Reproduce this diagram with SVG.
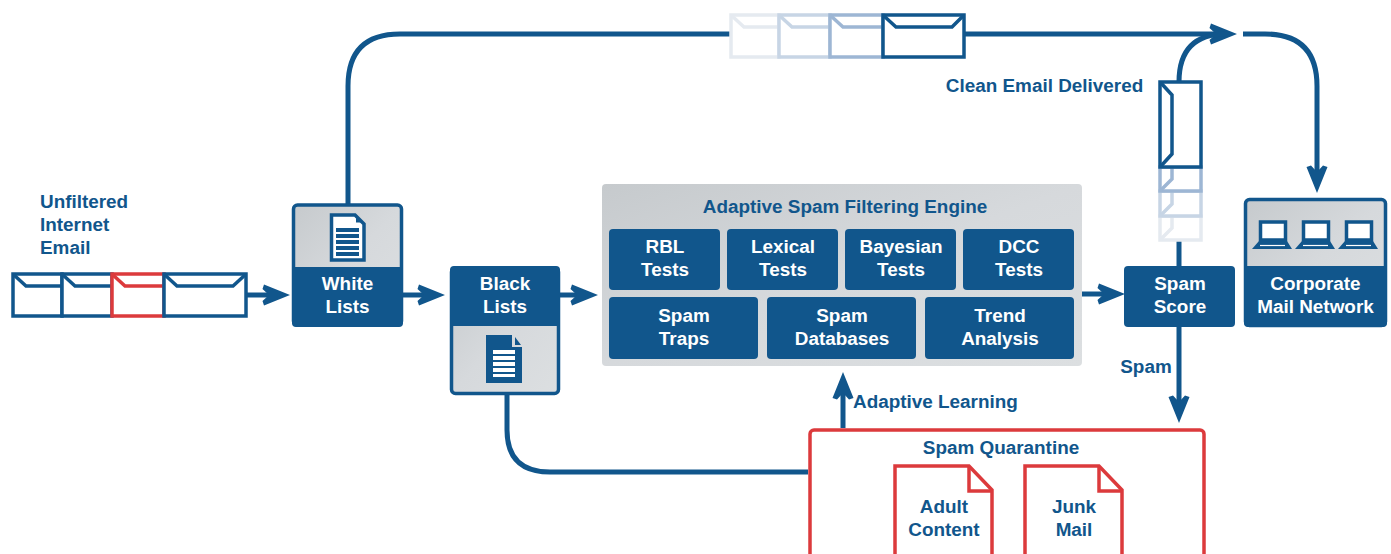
<svg xmlns="http://www.w3.org/2000/svg" width="1391" height="554" viewBox="0 0 1391 554">
<style>
text{font-family:"Liberation Sans",Arial,sans-serif;font-weight:700;font-size:18.9px;text-anchor:middle}
.w{fill:#fff}.b{fill:#11568c}
.l{text-anchor:start}
.tile{fill:#11568c}
.line{fill:none;stroke:#11568c;stroke-width:5}
.env{fill:#fff;stroke-width:3.5;stroke-linejoin:miter}
.flap{fill:none;stroke-width:3.5}
.red{fill:#fff;stroke:#dc3a3c;stroke-width:3.5}
.panel{fill:url(#g);stroke:#11568c;stroke-width:3.5}
</style>
<defs>
<linearGradient id="g" x1="0" y1="0" x2="1" y2="1"><stop offset="0" stop-color="#c6cacd"/><stop offset=".5" stop-color="#d6d9dc"/><stop offset="1" stop-color="#dcdfe1"/></linearGradient>
<marker id="a" markerUnits="userSpaceOnUse" markerWidth="32" markerHeight="26" refX="12" refY="13" orient="auto"><path d="M0.500 7L2 2.500L28 13L2 23.500L0.500 19L7 13Z" fill="#11568c"/></marker>
</defs>
<g id="connectors">
<path class="line" d="M348 205V86Q348 34 400 34H730M964 34H1221" marker-end="url(#a)"/>
<path class="line" d="M1179 81V82Q1179 34 1226 34"/>
<path class="line" d="M1243 34H1265Q1317 34 1317 86V177" marker-end="url(#a)"/>
<path class="line" d="M246 295H274" marker-end="url(#a)"/>
<path class="line" d="M403 295H429" marker-end="url(#a)"/>
<path class="line" d="M560 295H582" marker-end="url(#a)"/>
<path class="line" d="M1082 294H1109" marker-end="url(#a)"/>
<path class="line" d="M1179 240V266"/>
<path class="line" d="M1179 327V407" marker-end="url(#a)"/>
<path class="line" d="M843 428V388" marker-end="url(#a)"/>
<path class="line" d="M507 395V430Q507 472 550 472H808"/>
</g>
<g id="unfiltered-label"><text class="b l" x="40" y="207.500">Unfiltered</text><text class="b l" x="40" y="230.500">Internet</text><text class="b l" x="40" y="253.500">Email</text></g>
<g id="envelopes-in">
<rect class="env" x="13" y="274" width="49" height="42" stroke="#11568c"/><path class="flap" stroke="#11568c" d="M14 275L26 286H62"/>
<rect class="env" x="62" y="274" width="50" height="42" stroke="#11568c"/><path class="flap" stroke="#11568c" d="M63 275L75 286H112"/>
<rect class="env" x="112" y="274" width="52" height="42" stroke="#dc3a3c"/><path class="flap" stroke="#dc3a3c" d="M113 275L125 286H164"/>
<rect class="env" x="164" y="274" width="82" height="42" stroke="#11568c"/><path class="flap" stroke="#11568c" d="M165 275L177 286H233L245 275"/>
</g>
<g id="white-lists">
<rect class="panel" x="293.500" y="205" width="108" height="120" rx="4"/>
<path class="tile" d="M292 267H403V323a4 4 0 0 1-4 4H296a4 4 0 0 1-4-4Z"/>
<path d="M331.500 215H355L364 224V260H331.500Z" fill="#fff" stroke="#11568c" stroke-width="3.500"/>
<path d="M356 217.500L361 222.500H356Z" fill="#11568c"/>
<path d="M336 228h23v4h-23zM336 234h23v4h-23zM336 240h23v4h-23zM336 246h23v4h-23zM336 252h23v4h-23z" fill="#11568c"/>
<text class="w" x="347.500" y="289.500">White</text><text class="w" x="347.500" y="313">Lists</text>
</g>
<g id="black-lists">
<rect class="panel" x="451.500" y="268" width="107" height="125.500" rx="4"/>
<path class="tile" d="M454 266H556a4 4 0 0 1 4 4V326H450V270a4 4 0 0 1 4-4Z"/>
<path d="M486 335H512V347H522V383H486Z" fill="#11568c"/>
<path d="M515 337L521 345H515Z" fill="#11568c"/>
<path d="M493 350h22v4h-22zM493 356h22v4h-22zM493 362h22v4h-22zM493 368h22v4h-22zM493 374h22v3h-22z" fill="#fff"/>
<text class="w" x="505" y="289.500">Black</text><text class="w" x="505" y="313">Lists</text>
</g>
<g id="engine">
<rect x="602" y="184" width="480" height="182" rx="4" fill="url(#g)"/>
<text class="b" x="845" y="212.500">Adaptive Spam Filtering Engine</text>
</g>
<g id="rbl"><rect class="tile" x="609" y="229" width="111" height="61" rx="4"/><text class="w" x="665" y="252.500">RBL</text><text class="w" x="665" y="275.500">Tests</text></g>
<g id="lexical"><rect class="tile" x="727" y="229" width="111" height="61" rx="4"/><text class="w" x="783" y="252.500">Lexical</text><text class="w" x="783" y="275.500">Tests</text></g>
<g id="bayesian"><rect class="tile" x="845" y="229" width="111" height="61" rx="4"/><text class="w" x="901" y="252.500">Bayesian</text><text class="w" x="901" y="275.500">Tests</text></g>
<g id="dcc"><rect class="tile" x="963" y="229" width="111" height="61" rx="4"/><text class="w" x="1019" y="252.500">DCC</text><text class="w" x="1019" y="275.500">Tests</text></g>
<g id="traps"><rect class="tile" x="609" y="297" width="149" height="62" rx="4"/><text class="w" x="684" y="321.500">Spam</text><text class="w" x="684" y="344.500">Traps</text></g>
<g id="databases"><rect class="tile" x="767" y="297" width="149" height="62" rx="4"/><text class="w" x="842" y="321.500">Spam</text><text class="w" x="842" y="344.500">Databases</text></g>
<g id="trend"><rect class="tile" x="925" y="297" width="149" height="62" rx="4"/><text class="w" x="1000" y="321.500">Trend</text><text class="w" x="1000" y="344.500">Analysis</text></g>
<g id="spam-score"><rect class="tile" x="1124" y="266" width="111" height="61" rx="4"/><text class="w" x="1180" y="289.500">Spam</text><text class="w" x="1180" y="312.500">Score</text></g>
<g id="corporate">
<rect class="panel" x="1245.500" y="199.500" width="140" height="126" rx="4"/>
<path class="tile" d="M1244 266H1387V323a4 4 0 0 1-4 4H1248a4 4 0 0 1-4-4Z"/>
<g id="lap1"><rect x="1260.500" y="222" width="25" height="18" fill="#fff" stroke="#11568c" stroke-width="3.500"/><path d="M1259 241H1287L1292 249H1252Z" fill="#11568c"/><path d="M1260 245.500H1285" stroke="#fff" stroke-width="1.200"/></g>
<g id="lap2"><rect x="1303.500" y="222" width="25" height="18" fill="#fff" stroke="#11568c" stroke-width="3.500"/><path d="M1302 241H1330L1335 249H1295Z" fill="#11568c"/><path d="M1303 245.500H1328" stroke="#fff" stroke-width="1.200"/></g>
<g id="lap3"><rect x="1346.500" y="222" width="25" height="18" fill="#fff" stroke="#11568c" stroke-width="3.500"/><path d="M1345 241H1373L1378 249H1338Z" fill="#11568c"/><path d="M1346 245.500H1371" stroke="#fff" stroke-width="1.200"/></g>
<text class="w" x="1315.500" y="289.500">Corporate</text><text class="w" x="1315.500" y="312.500">Mail Network</text>
</g>
<g id="envelopes-top">
<rect class="env" x="731" y="15" width="48" height="42" stroke="#e5eaf0"/><path class="flap" stroke="#e5eaf0" d="M732 16L744 27H779"/>
<rect class="env" x="779" y="15" width="51" height="42" stroke="#c7d5e5"/><path class="flap" stroke="#c7d5e5" d="M780 16L792 27H830"/>
<rect class="env" x="830" y="15" width="53" height="42" stroke="#9db6d4"/><path class="flap" stroke="#9db6d4" d="M831 16L843 27H883"/>
<rect class="env" x="883" y="15" width="81" height="42" stroke="#11568c"/><path class="flap" stroke="#11568c" d="M884 16L896 27H952L963 16"/>
</g>
<g id="envelopes-side">
<rect class="env" x="1160" y="216" width="41" height="24" stroke="#e5eaf0"/><path class="flap" stroke="#e5eaf0" d="M1172 216V228L1161 239"/>
<rect class="env" x="1160" y="191" width="41" height="25" stroke="#c7d5e5"/><path class="flap" stroke="#c7d5e5" d="M1172 191V204L1161 215"/>
<rect class="env" x="1160" y="167" width="41" height="24" stroke="#9db6d4"/><path class="flap" stroke="#9db6d4" d="M1172 167V179L1161 190"/>
<rect class="env" x="1160" y="82" width="41" height="85" stroke="#11568c"/><path class="flap" stroke="#11568c" d="M1161 83L1172 95V154L1161 166"/>
</g>
<g id="labels"><text class="b" x="1044.500" y="91.500">Clean Email Delivered</text><text class="b" x="1146" y="372.500">Spam</text><text class="b l" x="853" y="407.500">Adaptive Learning</text></g>
<g id="quarantine">
<path class="red" d="M810 556V434a4 4 0 0 1 4-4H1200a4 4 0 0 1 4 4V556"/>
<text class="b" x="1001" y="453.500">Spam Quarantine</text>
<g id="adult"><path class="red" d="M895 556V466H969L992 490V556"/><path fill="none" stroke="#dc3a3c" stroke-width="3.500" d="M969 466V491H992"/><text class="b" x="944" y="512.500">Adult</text><text class="b" x="944" y="535.500">Content</text></g>
<g id="junk"><path class="red" d="M1025 556V466H1099L1122 490V556"/><path fill="none" stroke="#dc3a3c" stroke-width="3.500" d="M1099 466V491H1122"/><text class="b" x="1074" y="512.500">Junk</text><text class="b" x="1074" y="535.500">Mail</text></g>
</g>
</svg>
